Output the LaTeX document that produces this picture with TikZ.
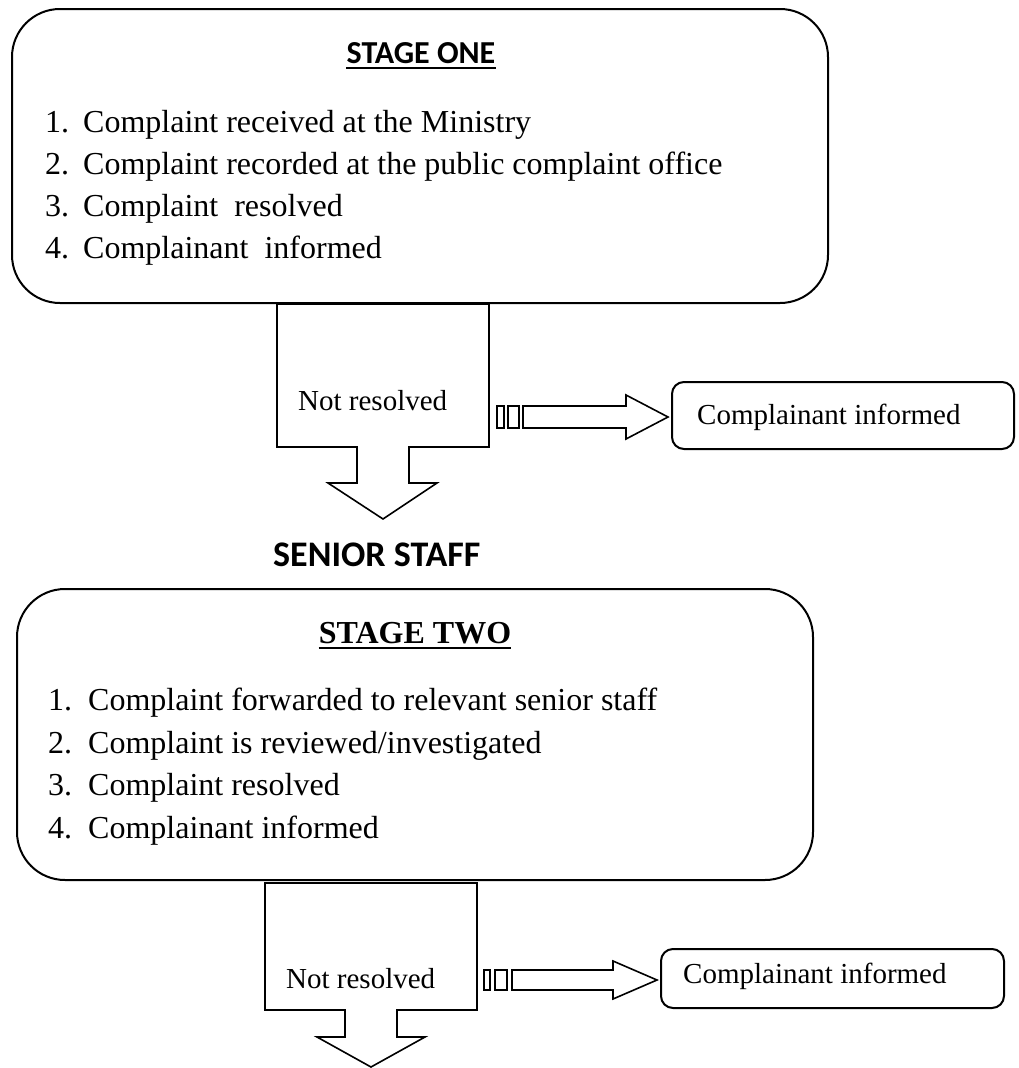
\documentclass[tikz,border=0pt]{standalone}
\usepackage{fontspec}
\setmainfont{Liberation Serif}
\newfontfamily\calibrifont{Carlito}
\begin{document}
\begin{tikzpicture}[x=1pt,y=-1pt,
  stagebox/.style={draw, line width=2pt, rounded corners=48pt},
  infobox/.style={draw, line width=2pt, rounded corners=12pt},
  blockarrow/.style={draw, line width=1.6pt, line join=miter, fill=white},
  markbox/.style={draw, line width=1.4pt},
  item/.style={anchor=base west, inner sep=0pt, font=\fontsize{32}{38}\selectfont},
  smalltext/.style={anchor=base west, inner sep=0pt, font=\fontsize{29}{34}\selectfont},
  sanstitle/.style={anchor=base, inner sep=0pt, font=\calibrifont\bfseries\fontsize{32}{38}\selectfont},
  seriftitle/.style={anchor=base, inner sep=0pt, font=\bfseries\fontsize{32}{38}\selectfont},
  uline/.style={line width=2.4pt}]
\useasboundingbox (0,0) rectangle (1018,1068);

% ---------- Stage one ----------
\draw[stagebox] (12,9) rectangle (828,303);
\node[sanstitle] (t1) at (421,63) {STAGE ONE};
\draw[uline] ([yshift=-5pt]t1.base west) -- ([yshift=-5pt]t1.base east);
\node[item] (n11) at (45,132) {1.};
\node[item] (a11) at (83,132) {Complaint received at the Ministry};
\node[item] (n12) at (45,174) {2.};
\node[item] (a12) at (83,174) {Complaint recorded at the public complaint office};
\node[item] (n13) at (45,216) {3.};
\node[item] (a13) at (83,216) {Complaint\ \ resolved};
\node[item] (n14) at (45,258) {4.};
\node[item] (a14) at (83,258) {Complainant\ \ informed};

% ---------- first Not resolved arrow ----------
\draw[blockarrow] (277,304) -- (489,304) -- (489,447) -- (409,447) -- (409,483)
  -- (437,483) -- (383,519) -- (328,483) -- (357,483) -- (357,447) -- (277,447) -- cycle;
\node[smalltext] (nr1) at (298,410) {Not resolved};

\draw[markbox] (497,406) rectangle (504,428);
\draw[markbox] (508,406) rectangle (519,428);
\draw[blockarrow] (523,406) -- (626,406) -- (626,395) -- (668,417) -- (626,439)
  -- (626,428) -- (523,428) -- cycle;
\draw[infobox] (672,382) rectangle (1014,449);
\node[smalltext] (ci1) at (697,424) {Complainant informed};

% ---------- Senior staff ----------
\node[anchor=base west, inner sep=0pt, font=\calibrifont\bfseries\fontsize{36}{42}\selectfont] (ss) at (273,566) {SENIOR STAFF};

% ---------- Stage two ----------
\draw[stagebox] (17,589) rectangle (813,880);
\node[seriftitle] (t2) at (415,643) {STAGE TWO};
\draw[uline] ([yshift=-5pt]t2.base west) -- ([yshift=-5pt]t2.base east);
\node[item] (n21) at (48,710) {1.};
\node[item] (a21) at (88,710) {Complaint forwarded to relevant senior staff};
\node[item] (n22) at (48,753) {2.};
\node[item] (a22) at (88,753) {Complaint is reviewed/investigated};
\node[item] (n23) at (48,795) {3.};
\node[item] (a23) at (88,795) {Complaint resolved};
\node[item] (n24) at (48,838) {4.};
\node[item] (a24) at (88,838) {Complainant informed};

% ---------- second Not resolved arrow ----------
\draw[blockarrow] (265,883) -- (477,883) -- (477,1010) -- (397,1010) -- (397,1037)
  -- (425,1037) -- (371,1067) -- (317,1037) -- (345,1037) -- (345,1010) -- (265,1010) -- cycle;
\node[smalltext] (nr2) at (286,988) {Not resolved};

\draw[markbox] (484,970) rectangle (490,990);
\draw[markbox] (495,970) rectangle (507,990);
\draw[blockarrow] (512,970) -- (613,970) -- (613,961) -- (657,980) -- (613,999)
  -- (613,990) -- (512,990) -- cycle;
\draw[infobox] (661,949) rectangle (1004,1008);
\node[smalltext] (ci2) at (683,983) {Complainant informed};
\end{tikzpicture}
\end{document}
